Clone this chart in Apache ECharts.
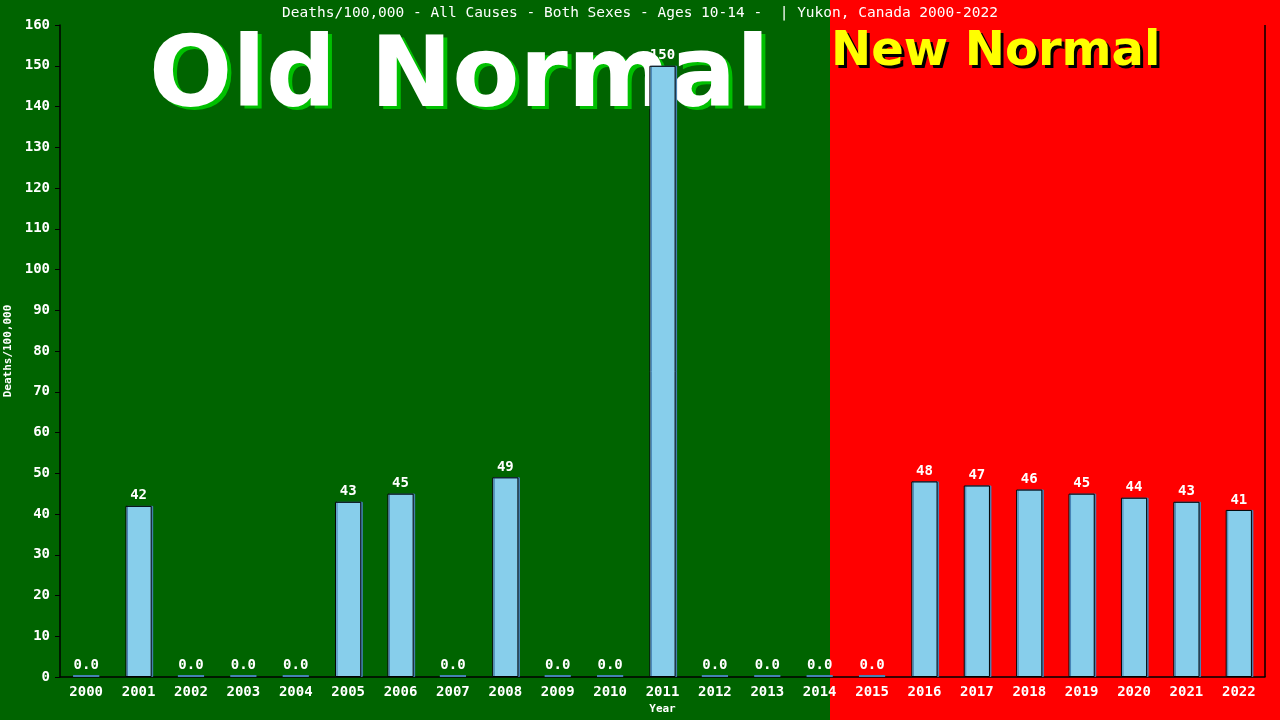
<!DOCTYPE html>
<html>
<head>
<meta charset="utf-8">
<title>Deaths/100,000 - Yukon 10-14</title>
<script src="https://cdn.jsdelivr.net/npm/echarts@6/dist/echarts.min.js"></script>
<style>
html, body { margin: 0; padding: 0; background: #006400; }
#chart { width: 1280px; height: 720px; }
</style>
</head>
<body>
<div id="chart"></div>
<script>
// data
var years = ['2000','2001','2002','2003','2004','2005','2006','2007','2008','2009','2010','2011',
             '2012','2013','2014','2015','2016','2017','2018','2019','2020','2021','2022'];
var deaths = [0, 42, 0, 0, 0, 43, 45, 0, 49, 0, 0, 150, 0, 0, 0, 0, 48, 47, 46, 45, 44, 43, 41];
var yTicks = { min: 0, max: 160, interval: 10 };

var mono = '"DejaVu Sans Mono", monospace';

var chart = echarts.init(document.getElementById('chart'));

var barData = deaths.map(function (v) {
    if (v === 0) {
        // zero years show as a thin steelblue strip
        return { value: v, itemStyle: { color: '#4682B4', borderWidth: 0, shadowOffsetX: 0 } };
    }
    return v;
});

var option = {
    animation: false,
    backgroundColor: '#006400',
    title: {
        text: 'Deaths/100,000 - All Causes - Both Sexes - Ages 10-14 -  | Yukon, Canada 2000-2022',
        left: 'center',
        top: 1,
        textStyle: { color: '#ffffff', fontFamily: mono, fontSize: 14.5, fontWeight: 'normal' }
    },
    graphic: [
        // Old Normal / New Normal backgrounds
        { type: 'rect', z: -20, shape: { x: 0, y: 0, width: 830, height: 720 }, style: { fill: '#006400' } },
        { type: 'rect', z: -20, shape: { x: 830, y: 0, width: 450, height: 720 }, style: { fill: '#ff0000' } },
        { type: 'text', z: -10, x: 153, y: 133,
          style: { text: 'Old Normal', fill: '#00c000', font: 'bold 98px "DejaVu Sans"', textVerticalAlign: 'bottom' } },
        { type: 'text', z: -9, x: 149, y: 130,
          style: { text: 'Old Normal', fill: '#ffffff', font: 'bold 98px "DejaVu Sans"', textVerticalAlign: 'bottom' } },
        { type: 'text', z: -10, x: 834, y: 80,
          style: { text: 'New Normal', fill: '#000000', font: 'bold 48px "DejaVu Sans"', textVerticalAlign: 'bottom' } },
        { type: 'text', z: -9, x: 831, y: 77,
          style: { text: 'New Normal', fill: '#ffff00', font: 'bold 48px "DejaVu Sans"', textVerticalAlign: 'bottom' } }
    ],
    grid: { left: 60, right: 15, top: 25, bottom: 43, show: false, outerBoundsMode: 'none' },
    xAxis: {
        type: 'category',
        data: years,
        name: 'Year',
        nameLocation: 'middle',
        nameGap: 25,
        nameTextStyle: { color: '#ffffff', fontFamily: mono, fontSize: 11, fontWeight: 'bold' },
        axisLine: { lineStyle: { color: '#000000', width: 1.5 } },
        axisTick: { show: false },
        axisLabel: { color: '#ffffff', fontFamily: mono, fontSize: 14, fontWeight: 'bold', margin: 8, interval: 0 }
    },
    yAxis: {
        type: 'value',
        min: yTicks.min,
        max: yTicks.max,
        interval: yTicks.interval,
        name: 'Deaths/100,000',
        nameLocation: 'middle',
        nameGap: 42,
        nameTextStyle: { color: '#ffffff', fontFamily: mono, fontSize: 11, fontWeight: 'bold' },
        axisLine: { show: true, lineStyle: { color: '#000000', width: 1.5 } },
        axisTick: { show: true, length: 5, lineStyle: { color: '#000000' } },
        axisLabel: { color: '#ffffff', fontFamily: mono, fontSize: 14, fontWeight: 'bold', margin: 10 },
        splitLine: { show: false }
    },
    series: [{
        type: 'bar',
        data: barData,
        barWidth: '50%',
        barMinHeight: 2,
        itemStyle: {
            color: '#87CEEB',
            borderColor: '#000000',
            borderWidth: 1,
            shadowColor: '#4682B4',
            shadowOffsetX: 1.5,
            shadowBlur: 0
        },
        label: {
            show: true,
            position: 'top',
            distance: 3,
            color: '#ffffff',
            fontFamily: mono,
            fontSize: 14,
            fontWeight: 'bold',
            formatter: function (p) { return p.value === 0 ? '0.0' : String(p.value); }
        }
    }, {
        // right-hand frame line of the plot
        type: 'line',
        data: [],
        markLine: {
            silent: true, symbol: 'none', label: { show: false },
            lineStyle: { color: '#000000', type: 'solid', width: 1.5 },
            data: [[{ xAxis: years.length - 1, yAxis: yTicks.max, x: 1265 }, { xAxis: years.length - 1, yAxis: yTicks.min, x: 1265 }]]
        }
    }]
};

chart.setOption(option);
</script>
</body>
</html>
